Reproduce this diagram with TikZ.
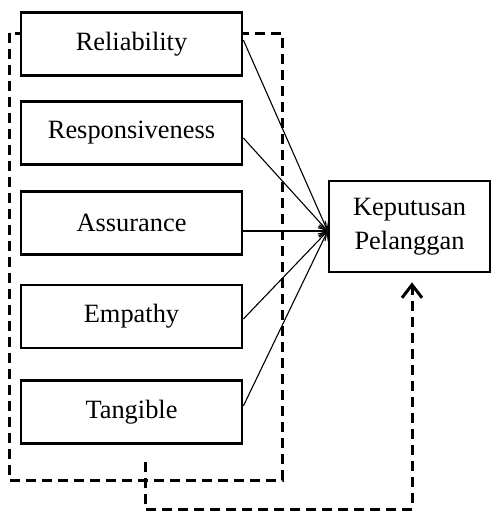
\documentclass[tikz,border=0pt]{standalone}
\usepackage{fontspec}
\setmainfont{Liberation Serif}
\usetikzlibrary{arrows.meta,calc}
\tikzset{
  dimbox/.style={draw, line width=1.35pt, fill=white, minimum width=110.5pt, minimum height=31.5pt, inner sep=0pt, font=\fontsize{13.2}{17}\selectfont},
  link/.style={line width=0.55pt, -{Straight Barb[length=4pt,width=5pt]}},
  dashline/.style={line width=1.5pt, dash pattern=on 5pt off 3pt},
}
\begin{document}
\begin{tikzpicture}[x=0.5pt,y=-0.5pt]
\useasboundingbox (0,0) rectangle (491,514);
% dashed grouping box
\draw[dashline] (9,33) rectangle (282,480);
% dimension boxes
\node[dimbox] (rel) at (131.5,44) {Reliability};
\node[dimbox] (res) at (131.5,133) {Responsiveness};
\node[dimbox] (ass) at (131.5,223) {Assurance};
\node[dimbox] (emp) at (131.5,316.5) {Empathy};
\node[dimbox] (tan) at (131.5,412) {Tangible};
% target
\node[dimbox, minimum width=80.5pt, minimum height=45.5pt, align=center] (kp) at (409.5,226.5) {Keputusan\\Pelanggan};
\coordinate (kin) at ($(kp.west)+(0,4.5)$);
% connectors
\draw[link] ($(rel.east)+(0,-4)$) -- (kin);
\draw[link] ($(res.east)+(0,5)$) -- (kin);
\draw[link] ($(ass.east)+(0,8)$) -- (kin);
\draw[link] ($(emp.east)+(0,2.5)$) -- (kin);
\draw[link] ($(tan.east)+(0,-6)$) -- (kin);
% dashed simultaneous connector
\coordinate (gs) at (145,462);
\coordinate (ge) at ($(kp.south)+(2.5,9)$);
\draw[dashline, -{Straight Barb[length=6.5pt,width=10pt,line width=1.5pt]}] (gs) -- (145,509) -| (ge);
\end{tikzpicture}
\end{document}
